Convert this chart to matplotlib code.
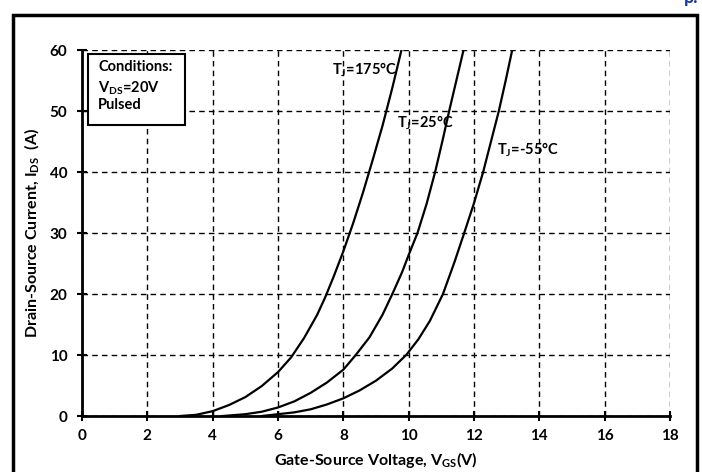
import matplotlib.pyplot as plt
from matplotlib.patches import Rectangle

plt.rcParams['font.family'] = ['Lato', 'DejaVu Sans']
plt.rcParams['mathtext.fontset'] = 'custom'
plt.rcParams['mathtext.rm'] = 'Lato'
plt.rcParams['mathtext.bf'] = 'Lato:bold'
plt.rcParams['mathtext.default'] = 'bf'

# transfer curves, I_DS vs V_GS at three junction temperatures
vgs_175 = [3.0, 3.5, 4.0, 4.5, 5.0, 5.5, 6.0, 6.4, 6.8, 7.2, 7.44, 7.7, 8.0, 8.3, 8.6, 8.9, 9.2, 9.5, 9.78]
ids_175 = [0, 0.2, 0.8, 1.8, 3.1, 4.9, 7.2, 9.6, 12.8, 16.6, 19.4, 22.8, 27.0, 31.6, 36.6, 42.0, 47.6, 53.8, 60]

vgs_25 = [4.3, 5.0, 5.5, 6.0, 6.5, 7.0, 7.5, 8.0, 8.38, 8.8, 9.2, 9.5, 9.8, 10.0, 10.27, 10.55,
          10.81, 11.03, 11.24, 11.46, 11.68]
ids_25 = [0, 0.3, 0.7, 1.4, 2.4, 3.8, 5.5, 7.6, 10, 12.9, 16.6, 20, 23.6, 26.4, 30, 34.8,
          40, 45, 50, 55, 60]

vgs_m55 = [5.5, 6.0, 6.5, 7.0, 7.5, 8.0, 8.5, 9.0, 9.5, 9.94, 10.3, 10.65, 11.05, 11.4, 11.7,
           12.0, 12.28, 12.52, 12.76, 12.97, 13.17]
ids_m55 = [0, 0.3, 0.6, 1.1, 1.9, 2.9, 4.2, 5.8, 7.8, 10.1, 12.6, 15.6, 20, 25.2, 30,
           34.9, 40, 45, 50, 55, 60]

x_ticks = [0, 2, 4, 6, 8, 10, 12, 14, 16, 18]
y_ticks = [0, 10, 20, 30, 40, 50, 60]

fig = plt.figure(figsize=(7.02, 4.72), dpi=100)
ax = fig.add_axes([0.1168, 0.1186, 0.8376, 0.7754])

for vx, iy in [(vgs_175, ids_175), (vgs_25, ids_25), (vgs_m55, ids_m55)]:
    ax.plot(vx, iy, color='black', lw=1.6, zorder=3, solid_joinstyle='round')

ax.set_xlim(0, 18)
ax.set_ylim(0, 60)
ax.set_xticks(x_ticks)
ax.set_yticks(y_ticks)
ax.grid(True, color='black', ls=(0, (4, 3)), lw=1.0)
ax.set_axisbelow(True)
for s in ['top', 'right']:
    ax.spines[s].set_visible(False)
for s in ['left', 'bottom']:
    ax.spines[s].set_linewidth(2)
ax.tick_params(direction='inout', length=7, width=1.5, labelsize=11)
ax.tick_params(axis='x', pad=6)
ax.tick_params(axis='y', pad=7)
for lab in ax.get_xticklabels() + ax.get_yticklabels():
    lab.set_fontweight('bold')

ax.set_xlabel(r'Gate-Source Voltage, V$_{\mathbf{GS}}$(V)', fontsize=11.5, fontweight='bold', labelpad=5)
ax.set_ylabel(r'Drain-Source Current, I$_{\mathbf{DS}}$  (A)', fontsize=11.5, fontweight='bold', labelpad=6)

ax.text(7.64, 56.7, r'T$_{\mathbf{J}}$=175°C', fontsize=10.5, fontweight='bold', va='center')
ax.text(9.64, 48.0, r'T$_{\mathbf{J}}$=25°C', fontsize=10.5, fontweight='bold', va='center')
ax.text(12.70, 43.6, r'T$_{\mathbf{J}}$=-55°C', fontsize=10.5, fontweight='bold', va='center')

# conditions box
ax.add_patch(Rectangle((0.18, 47.7), 2.97, 11.7, facecolor='white', edgecolor='black', lw=1.5, zorder=4))
ax.text(0.5, 57.2, 'Conditions:', fontsize=10.5, fontweight='bold', va='center', zorder=5)
ax.text(0.5, 53.8, r'V$_{\mathbf{DS}}$=20V', fontsize=10.5, fontweight='bold', va='center', zorder=5)
ax.text(0.5, 51.0, 'Pulsed', fontsize=10.5, fontweight='bold', va='center', zorder=5)

# outer frame
fig.patches.append(Rectangle((13 / 702, -0.02), 684 / 702, 1.0 - 15 / 472 + 0.02,
                             transform=fig.transFigure, fill=False, edgecolor='black', lw=2.5))
fig.text(0.985, 1.005, 'p.', color='#1a3a9a', fontsize=13, fontweight='bold', ha='center', va='center')

fig.savefig('out.png', dpi=100)
